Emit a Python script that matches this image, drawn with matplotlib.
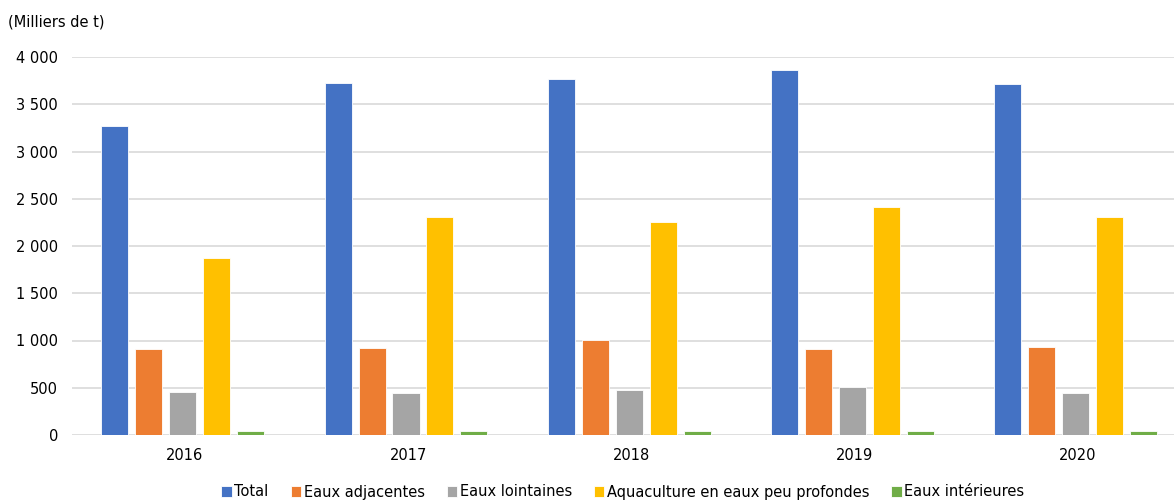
import numpy as np
import matplotlib
matplotlib.use("Agg")
import matplotlib.pyplot as plt
from matplotlib.ticker import FuncFormatter, MultipleLocator

# Data (milliers de tonnes)
years = ["2016", "2017", "2018", "2019", "2020"]
total = [3270, 3725, 3768, 3863, 3715]
eaux_adjacentes = [905, 925, 1010, 910, 930]
eaux_lointaines = [455, 445, 475, 505, 440]
aquaculture = [1870, 2310, 2250, 2410, 2310]
eaux_interieures = [40, 40, 40, 40, 40]

series_names = ["Total", "Eaux adjacentes", "Eaux lointaines",
                "Aquaculture en eaux peu profondes", "Eaux intérieures"]
series_values = [total, eaux_adjacentes, eaux_lointaines, aquaculture, eaux_interieures]
colors = ["#4472C4", "#ED7D31", "#A5A5A5", "#FFC000", "#70AD47"]

plt.rcParams["font.family"] = ["DejaVu Sans"]

fig = plt.figure(figsize=(11.74, 5.0), dpi=100)
ax = fig.add_axes([72 / 1174, 65 / 500, 1 - 72 / 1174, (435 - 57) / 500])

x = np.arange(len(years))
width = 0.121
step = 0.152
for i, (name, vals, c) in enumerate(zip(series_names, series_values, colors)):
    ax.bar(x + (i - 2) * step - 0.01, vals, width, color=c, label=name,
           edgecolor="white", linewidth=0.6, zorder=3)

ax.set_ylim(0, 4000)
ax.set_xlim(-0.506, 4.43)
ax.yaxis.set_major_locator(MultipleLocator(500))
ax.yaxis.set_major_formatter(FuncFormatter(lambda v, p: f"{int(v):,}".replace(",", " ")))
ax.grid(axis="y", color="#D9D9D9", linewidth=1.2, zorder=0)
ax.set_xticks(x)
ax.set_xticklabels(years)
ax.tick_params(axis="both", length=0, labelsize=10.5, colors="#000000")
ax.tick_params(axis="y", pad=10)
ax.tick_params(axis="x", pad=9)
for s in ax.spines.values():
    s.set_visible(False)

fig.text(8 / 1174, 1 - 22 / 500, "(Milliers de t)", fontsize=10.5, va="center", ha="left")

ax.legend(loc="center", bbox_to_anchor=(0.5, -(492 - 435) / 378), ncol=5,
          frameon=False, fontsize=10.5, handlelength=0.7, handleheight=0.7,
          handletextpad=0.2, columnspacing=1.5, borderpad=0)

fig.savefig("out.png", dpi=100)
